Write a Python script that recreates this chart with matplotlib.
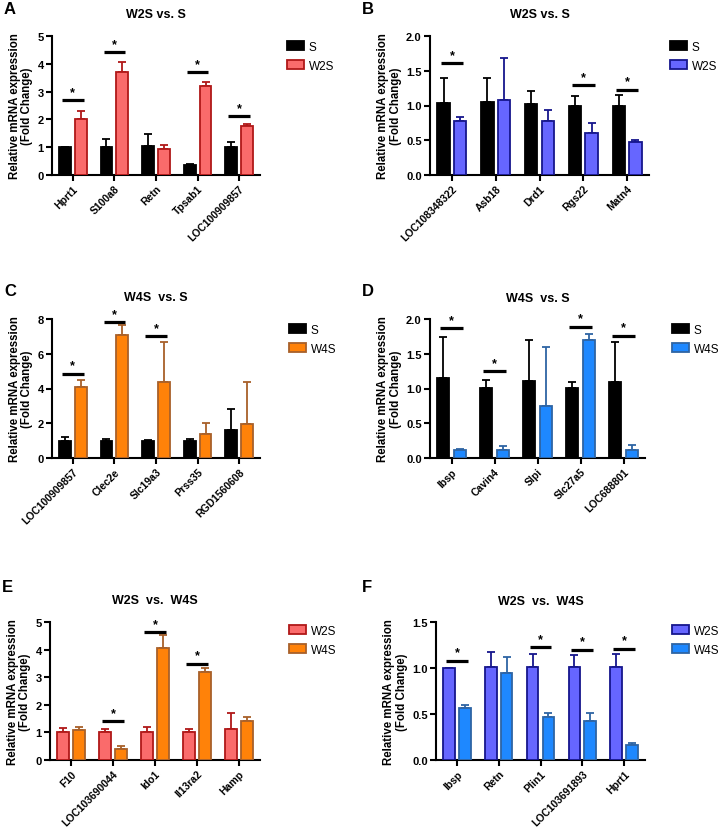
import matplotlib
matplotlib.use("Agg")
import matplotlib.pyplot as plt
from matplotlib.patches import Patch
import numpy as np

plt.rcParams["font.family"] = ["Liberation Sans", "DejaVu Sans"]

# ---- data ----
genes_a = ["Hprt1", "S100a8", "Retn", "Tpsab1", "LOC100909857"]
s_a = [1.0, 1.02, 1.05, 0.36, 1.0]
s_a_err = [0.01, 0.29, 0.43, 0.05, 0.2]
w2s_a = [2.0, 3.7, 0.93, 3.2, 1.76]
w2s_a_err = [0.3, 0.37, 0.14, 0.13, 0.08]
sig_a = [2.69, 4.43, None, 3.7, 2.12]

genes_b = ["LOC108348322", "Asb18", "Drd1", "Rgs22", "Matn4"]
s_b = [1.04, 1.05, 1.02, 1.0, 1.0]
s_b_err = [0.36, 0.34, 0.19, 0.13, 0.15]
w2s_b = [0.78, 1.08, 0.77, 0.61, 0.48]
w2s_b_err = [0.05, 0.61, 0.17, 0.14, 0.03]
sig_b = [1.61, None, None, 1.29, 1.23]

genes_c = ["LOC100909857", "Clec2e", "Slc19a3", "Prss35", "RGD1560608"]
s_c = [1.0, 0.98, 0.98, 1.0, 1.62]
s_c_err = [0.2, 0.14, 0.04, 0.1, 1.21]
w4s_c = [4.07, 7.1, 4.39, 1.41, 1.98]
w4s_c_err = [0.42, 0.53, 2.31, 0.61, 2.41]
sig_c = [4.86, 7.82, 7.0, None, None]

genes_d = ["Ibsp", "Cavin4", "Slpi", "Slc27a5", "LOC688801"]
s_d = [1.15, 1.01, 1.11, 1.01, 1.10]
s_d_err = [0.59, 0.11, 0.59, 0.09, 0.57]
w4s_d = [0.12, 0.12, 0.75, 1.70, 0.12]
w4s_d_err = [0.01, 0.05, 0.85, 0.08, 0.07]
sig_d = [1.87, 1.25, None, 1.89, 1.76]

genes_e = ["F10", "LOC103690044", "Ido1", "Il13ra2", "Hamp"]
w2s_e = [1.0, 1.0, 1.02, 1.0, 1.13]
w2s_e_err = [0.17, 0.12, 0.18, 0.11, 0.58]
w4s_e = [1.08, 0.41, 4.07, 3.2, 1.43]
w4s_e_err = [0.12, 0.08, 0.45, 0.14, 0.12]
sig_e = [None, 1.4, 4.63, 3.49, None]

genes_f = ["Ibsp", "Retn", "Plin1", "LOC103691893", "Hprt1"]
w2s_f = [1.0, 1.01, 1.01, 1.01, 1.01]
w2s_f_err = [0.003, 0.16, 0.14, 0.13, 0.14]
w4s_f = [0.56, 0.95, 0.47, 0.42, 0.16]
w4s_f_err = [0.04, 0.17, 0.04, 0.09, 0.02]
sig_f = [1.08, None, 1.23, 1.20, 1.21]

# fill / edge colours per group
style = {
    "S": ("#000000", "#000000"),
    "W2S_red": ("#FA6B6B", "#B01818"),
    "W2S_blue": ("#6666FF", "#16168C"),
    "W4S_orange": ("#FF8209", "#A8602A"),
    "W4S_lblue": ("#1E88FF", "#2E64A4"),
}

W, H = 723, 829
fig = plt.figure(figsize=(W / 100, H / 100), dpi=100)


def px_axes(left, right, top, bottom):
    return fig.add_axes([left / W, (H - bottom) / H, (right - left) / W, (bottom - top) / H])


def panel(box, letter, title, genes, g1, v1, e1, g2, v2, e2, sig, ymax, ystep, fmt,
          leg_xy, title_y, letter_y):
    ax = px_axes(*box)
    x = np.arange(len(genes))
    bw, off = 0.28, 0.19
    for xs, vals, errs, key in [(x - off, v1, e1, g1[1]), (x + off, v2, e2, g2[1])]:
        fc, ec = style[key]
        ax.bar(xs, vals, width=bw, color=fc, edgecolor=ec, linewidth=1.3, zorder=3)
        ax.errorbar(xs, vals, yerr=[np.zeros(len(vals)), errs], fmt="none",
                    ecolor=ec, elinewidth=1.3, capsize=3, capthick=1.3, zorder=2)
    for i, s in enumerate(sig):
        if s is None:
            continue
        ax.plot([i - 0.26, i + 0.26], [s, s], color="black", lw=2.3, zorder=4,
                solid_capstyle="butt")
        ax.text(i, s + ymax * 0.015, "*", ha="center", va="bottom",
                fontsize=9, fontweight="bold")
    ax.set_xlim(-0.5, len(genes) - 0.5)
    ax.set_ylim(0, ymax)
    ticks = np.arange(0, ymax + ystep / 2, ystep)
    ax.set_yticks(ticks)
    ax.set_yticklabels([fmt.format(t) for t in ticks], fontsize=8, fontweight="bold")
    ax.set_xticks(x)
    ax.set_xticklabels(genes, rotation=45, ha="right", rotation_mode="anchor",
                       fontsize=7.5, fontweight="bold")
    for sp in ["top", "right"]:
        ax.spines[sp].set_visible(False)
    for sp in ["left", "bottom"]:
        ax.spines[sp].set_linewidth(1.5)
    ax.tick_params(direction="out", length=4, width=1.5, pad=2)
    ax.set_ylabel("Relative mRNA expression\n(Fold Change)", fontsize=8.3,
                  fontweight="bold", labelpad=3, linespacing=1.05)
    cx = (box[0] + box[1]) / 2
    fig.text(cx / W, 1 - title_y / H, title, ha="center", va="center",
             fontsize=9, fontweight="bold")
    fig.text((box[0] - 48 if box[0] < 300 else 362) / W, 1 - letter_y / H, letter,
             ha="left", va="center", fontsize=12, fontweight="bold")
    handles = [Patch(facecolor=style[g1[1]][0], edgecolor=style[g1[1]][1], lw=1.3,
                     label=g1[0]),
               Patch(facecolor=style[g2[1]][0], edgecolor=style[g2[1]][1], lw=1.3,
                     label=g2[0])]
    fig.legend(handles=handles, loc="upper left",
               bbox_to_anchor=(leg_xy[0] / W, 1 - leg_xy[1] / H), frameon=False,
               fontsize=8.5, handlelength=1.4, handleheight=0.8, handletextpad=0.45,
               labelspacing=0.6, borderpad=0, borderaxespad=0)
    return ax


panel((52, 260, 37, 176), "A", "W2S vs. S", genes_a, ("S", "S"), s_a, s_a_err,
      ("W2S", "W2S_red"), w2s_a, w2s_a_err, sig_a, 5, 1, "{:.0f}",
      (287, 42), 15, 10)
panel((430, 649, 37, 176), "B", "W2S vs. S", genes_b, ("S", "S"), s_b, s_b_err,
      ("W2S", "W2S_blue"), w2s_b, w2s_b_err, sig_b, 2.0, 0.5, "{:.1f}",
      (670, 42), 15, 10)
panel((52, 260, 320, 459), "C", "W4S  vs. S", genes_c, ("S", "S"), s_c, s_c_err,
      ("W4S", "W4S_orange"), w4s_c, w4s_c_err, sig_c, 8, 2, "{:.0f}",
      (289, 325), 298, 292)
panel((430, 645, 320, 459), "D", "W4S  vs. S", genes_d, ("S", "S"), s_d, s_d_err,
      ("W4S", "W4S_lblue"), w4s_d, w4s_d_err, sig_d, 2.0, 0.5, "{:.1f}",
      (672, 325), 299, 292)
panel((50, 260, 623, 761), "E", "W2S  vs.  W4S", genes_e, ("W2S", "W2S_red"), w2s_e,
      w2s_e_err, ("W4S", "W4S_orange"), w4s_e, w4s_e_err, sig_e, 5, 1, "{:.0f}",
      (289, 626), 601, 588)
panel((436, 645, 623, 761), "F", "W2S  vs.  W4S", genes_f, ("W2S", "W2S_blue"), w2s_f,
      w2s_f_err, ("W4S", "W4S_lblue"), w4s_f, w4s_f_err, sig_f, 1.5, 0.5, "{:.1f}",
      (672, 626), 602, 588)

fig.savefig("out.png", dpi=100)
